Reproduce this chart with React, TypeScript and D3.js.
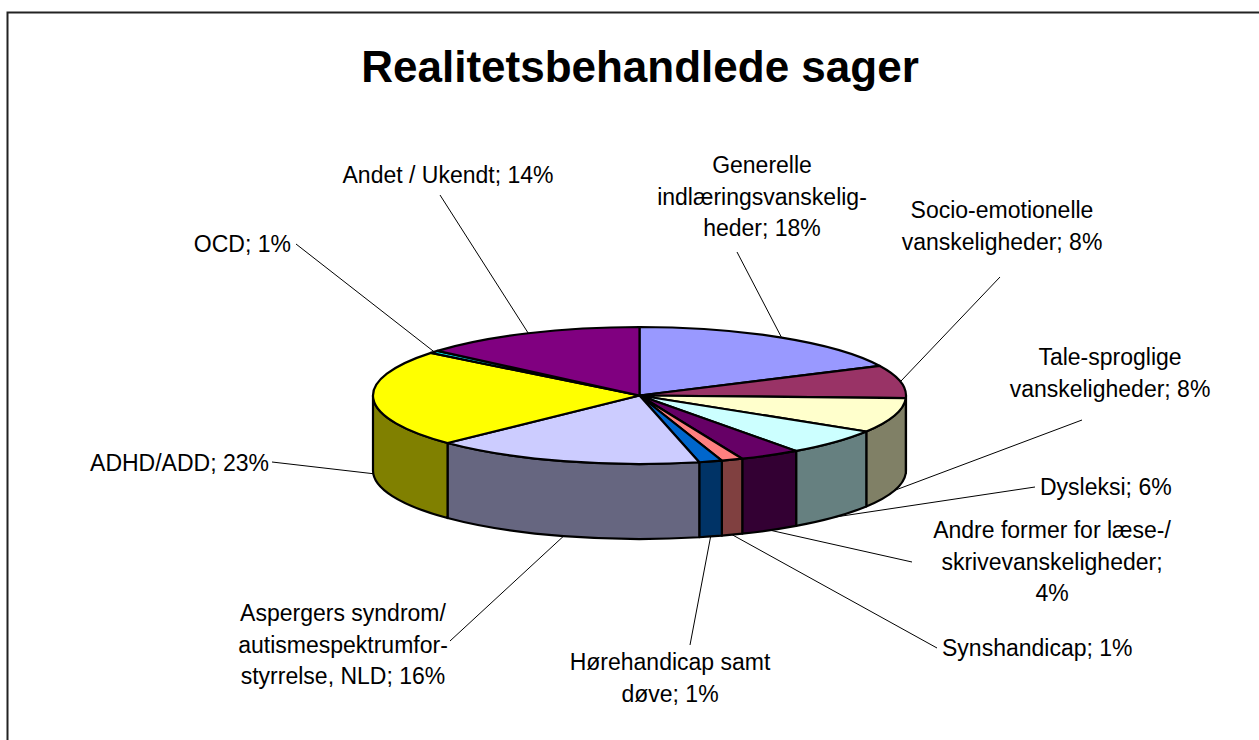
import React from "react";
import * as d3 from "d3";

const title = "Realitetsbehandlede sager";
const categories = [
  "Generelle indlæringsvanskeligheder",
  "Socio-emotionelle vanskeligheder",
  "Tale-sproglige vanskeligheder",
  "Dysleksi",
  "Andre former for læse-/skrivevanskeligheder",
  "Synshandicap",
  "Hørehandicap samt døve",
  "Aspergers syndrom/autismespektrumforstyrrelse, NLD",
  "ADHD/ADD",
  "OCD",
  "Andet / Ukendt",
];
const values = [17.9, 7.7, 8.2, 6.2, 3.7, 1.3, 1.4, 16.4, 22.9, 0.6, 13.7];
const labelText = [
  ["Generelle", "indlæringsvanskelig-", "heder; {p}%"],
  ["Socio-emotionelle", "vanskeligheder; {p}%"],
  ["Tale-sproglige", "vanskeligheder; {p}%"],
  ["Dysleksi; {p}%"],
  ["Andre former for læse-/", "skrivevanskeligheder;", "{p}%"],
  ["Synshandicap; {p}%"],
  ["Hørehandicap samt", "døve; {p}%"],
  ["Aspergers syndrom/", "autismespektrumfor-", "styrrelse, NLD; {p}%"],
  ["ADHD/ADD; {p}%"],
  ["OCD; {p}%"],
  ["Andet / Ukendt; {p}%"],
];
const colors = [
  "#9999FF", "#993366", "#FFFFCC", "#CCFFFF", "#660066", "#FF8080",
  "#0066CC", "#CCCCFF", "#FFFF00", "#00FFFF", "#800080",
];

// layout (label boxes placed like the manually positioned labels)
const labelLayout = [
  { x: 762, y: 173, anchor: "middle", lx: 737, ly: 252 },
  { x: 1002, y: 218, anchor: "middle", lx: 1000, ly: 277 },
  { x: 1110, y: 365, anchor: "middle", lx: 1082, ly: 420 },
  { x: 1040, y: 495, anchor: "start", lx: 1035, ly: 487 },
  { x: 1052, y: 538, anchor: "middle", lx: 912, ly: 562 },
  { x: 942, y: 656, anchor: "start", lx: 937, ly: 648 },
  { x: 670, y: 670, anchor: "middle", lx: 690, ly: 645 },
  { x: 343, y: 621, anchor: "middle", lx: 450, ly: 641 },
  { x: 269, y: 471, anchor: "end", lx: 272, ly: 462 },
  { x: 291, y: 252, anchor: "end", lx: 296, ly: 244 },
  { x: 448, y: 183, anchor: "middle", lx: 440, ly: 195 },
];

const W = 1259;
const H = 740;
const cx = 639.5;
const cy = 395.5;
const rx = 266.5;
const ry = 68.5;
const depth = 75;
const FONT = "'Liberation Sans', Arial, Helvetica, sans-serif";

function darker(c: string) {
  const col = d3.rgb(c);
  return d3.rgb(col.r * 0.5, col.g * 0.5, col.b * 0.5).formatHex();
}

function pt(theta: number, dy = 0): [number, number] {
  return [cx + rx * Math.sin(theta), cy - ry * Math.cos(theta) + dy];
}

export default function App() {
  const total = d3.sum(values);
  const pie = d3
    .pie<number>()
    .sort(null)
    .value((d) => d)
    .startAngle(0)
    .endAngle(2 * Math.PI);
  const arcs = pie(values);
  const arcGen = d3.arc<d3.PieArcDatum<number>>().innerRadius(0).outerRadius(rx);

  const sides = arcs
    .map((a, i) => {
      const t0 = Math.max(a.startAngle, Math.PI / 2);
      const t1 = Math.min(a.endAngle, (3 * Math.PI) / 2);
      if (t1 <= t0) return null;
      const p0 = pt(t0);
      const p1 = pt(t1);
      const d =
        `M${p0[0]},${p0[1]} A${rx},${ry} 0 0 1 ${p1[0]},${p1[1]} ` +
        `L${p1[0]},${p1[1] + depth} A${rx},${ry} 0 0 0 ${p0[0]},${p0[1] + depth} Z`;
      return { d, color: darker(colors[i]), key: i };
    })
    .filter(Boolean) as { d: string; color: string; key: number }[];

  return (
    <svg
      width={W}
      height={H}
      style={{ position: "absolute", left: 0, top: 0, background: "#fff" }}
      fontFamily={FONT}
    >
      <rect x={0} y={0} width={W} height={H} fill="#fff" />
      <rect x={7.5} y={12.5} width={W + 40} height={H + 40} fill="none" stroke="#222" strokeWidth={2} />
      <text x={640} y={82} textAnchor="middle" fontSize={44} fontWeight="bold" fill="#000">
        {title}
      </text>

      <g>
        {sides.map((s) => (
          <path key={s.key} d={s.d} fill={s.color} stroke="#000" strokeWidth={2.2} strokeLinejoin="round" />
        ))}
      </g>
      <g transform={`translate(${cx},${cy}) scale(1,${ry / rx})`}>
        {arcs.map((a, i) => (
          <path
            key={i}
            d={arcGen(a) || ""}
            fill={colors[i]}
            stroke="#000"
            strokeWidth={2.2}
            strokeLinejoin="round"
            vectorEffect="non-scaling-stroke"
          >
            <title>{categories[i]}</title>
          </path>
        ))}
      </g>

      <g>
        {arcs.map((a, i) => {
          const mid = (a.startAngle + a.endAngle) / 2;
          const front = Math.cos(mid) < 0;
          const [ex, ey] = pt(mid, front ? depth : 0);
          const L = labelLayout[i];
          return <line key={i} x1={L.lx} y1={L.ly} x2={ex} y2={ey} stroke="#000" strokeWidth={1} />;
        })}
      </g>

      <g fontSize={23} fill="#000">
        {labelText.map((lines, i) => {
          const p = Math.round((values[i] / total) * 100);
          const L = labelLayout[i];
          return (
            <text key={i} x={L.x} y={L.y} textAnchor={L.anchor as any}>
              {lines.map((ln, j) => (
                <tspan key={j} x={L.x} y={L.y + j * 31.5}>
                  {ln.replace("{p}", String(p))}
                </tspan>
              ))}
            </text>
          );
        })}
      </g>
    </svg>
  );
}
